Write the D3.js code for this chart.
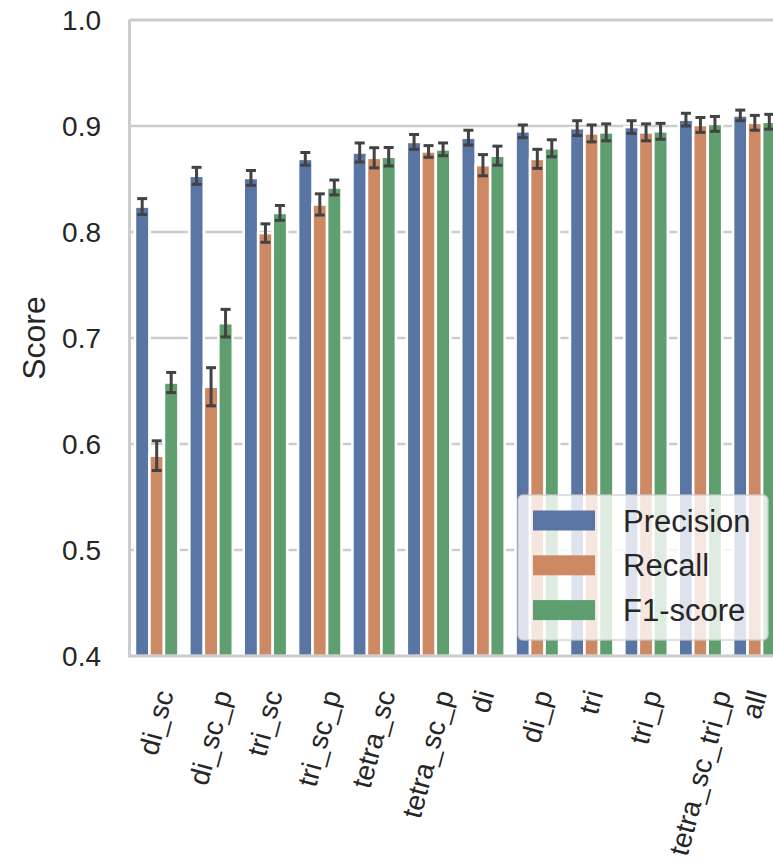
<!DOCTYPE html>
<html>
<head>
<meta charset="utf-8">
<script src="https://cdn.jsdelivr.net/npm/d3@7"></script>
<style>
  body { margin: 0; background: #fff; }
  svg { display: block; font-family: "Liberation Sans", Arial, sans-serif; }
</style>
</head>
<body>
<div id="chart"></div>
<script>
// feature sets on the x axis
const categories = ["di_sc", "di_sc_p", "tri_sc", "tri_sc_p", "tetra_sc", "tetra_sc_p",
    "di", "di_p", "tri", "tri_p", "tetra_sc_tri_p", "all"];
const seriesNames = ["Precision", "Recall", "F1-score"];

const precision = [0.824, 0.853, 0.851, 0.869, 0.875, 0.885, 0.889, 0.895, 0.898, 0.899, 0.906, 0.910];
const recall    = [0.589, 0.654, 0.799, 0.826, 0.870, 0.876, 0.863, 0.869, 0.893, 0.894, 0.901, 0.903];
const f1score   = [0.658, 0.714, 0.818, 0.842, 0.871, 0.878, 0.872, 0.879, 0.894, 0.895, 0.902, 0.904];

// half width of the error bars
const precisionErr = [0.0075, 0.008, 0.007, 0.006, 0.009, 0.007, 0.007, 0.006, 0.007, 0.006, 0.006, 0.005];
const recallErr    = [0.014, 0.018, 0.0087, 0.010, 0.0095, 0.0055, 0.010, 0.009, 0.008, 0.008, 0.007, 0.007];
const f1Err        = [0.0095, 0.013, 0.007, 0.007, 0.0087, 0.006, 0.009, 0.008, 0.008, 0.0075, 0.007, 0.007];

const yTicks = [0.4, 0.5, 0.6, 0.7, 0.8, 0.9, 1.0];
const colors = ["#5975a4", "#cc8963", "#5f9e6e"];

const W = 773, H = 862;
const plotLeft = 129.5, plotRight = 782, plotTop = 20, plotBottom = 656;

var svg = d3.select("#chart")
    .append("svg")
    .attr("width", W)
    .attr("height", H);

var xScale = d3.scaleBand().domain(categories).range([plotLeft, plotRight]).paddingInner(0).paddingOuter(0);
var xInner = d3.scaleBand().domain(seriesNames).range([0, xScale.bandwidth() * 0.8]);
var yScale = d3.scaleLinear().domain([0.4, 1.0]).range([plotBottom, plotTop]);

// grid
svg.append("g")
    .selectAll("line")
    .data(yTicks.slice(1, -1))
    .enter().append("line")
    .attr("x1", plotLeft).attr("x2", W)
    .attr("y1", d => yScale(d)).attr("y2", d => yScale(d))
    .attr("stroke", "#cccccc")
    .attr("stroke-width", 2.5);

// y tick labels
svg.append("g")
    .selectAll("text")
    .data(yTicks)
    .enter().append("text")
    .attr("x", 101)
    .attr("y", d => yScale(d))
    .attr("dy", "0.35em")
    .attr("text-anchor", "end")
    .attr("font-size", "28px")
    .attr("fill", "#262626")
    .text(d => d3.format(".1f")(d));

svg.append("text")
    .attr("transform", "translate(45," + (plotTop + plotBottom) / 2 + ") rotate(-90)")
    .attr("text-anchor", "middle")
    .attr("font-size", "32px")
    .attr("fill", "#262626")
    .text("Score");

// bars
var rows = [];
categories.forEach((c, i) => {
    rows.push({ cat: c, s: 0, v: precision[i], e: precisionErr[i] });
    rows.push({ cat: c, s: 1, v: recall[i], e: recallErr[i] });
    rows.push({ cat: c, s: 2, v: f1score[i], e: f1Err[i] });
});
const barX = d => xScale(d.cat) + xScale.bandwidth() * 0.1 + xInner(seriesNames[d.s]);

svg.append("g")
    .selectAll("rect")
    .data(rows)
    .enter().append("rect")
    .attr("x", barX)
    .attr("y", d => yScale(d.v))
    .attr("width", xInner.bandwidth())
    .attr("height", d => plotBottom - yScale(d.v))
    .attr("fill", d => colors[d.s])
    .attr("stroke", "#ffffff")
    .attr("stroke-width", 2.6);

// error bars
var eb = svg.append("g")
    .attr("stroke", "#424242")
    .attr("stroke-width", 3)
    .selectAll("g")
    .data(rows)
    .enter().append("g");
const cx = d => barX(d) + xInner.bandwidth() / 2;
const capW = 5;
eb.append("line")
    .attr("x1", cx).attr("x2", cx)
    .attr("y1", d => yScale(d.v - d.e)).attr("y2", d => yScale(d.v + d.e));
eb.append("line")
    .attr("x1", d => cx(d) - capW).attr("x2", d => cx(d) + capW)
    .attr("y1", d => yScale(d.v - d.e)).attr("y2", d => yScale(d.v - d.e));
eb.append("line")
    .attr("x1", d => cx(d) - capW).attr("x2", d => cx(d) + capW)
    .attr("y1", d => yScale(d.v + d.e)).attr("y2", d => yScale(d.v + d.e));

// spines
svg.append("line").attr("x1", plotLeft).attr("x2", plotLeft).attr("y1", plotTop).attr("y2", plotBottom + 1.5)
    .attr("stroke", "#cccccc").attr("stroke-width", 3);
svg.append("line").attr("x1", plotLeft).attr("x2", W).attr("y1", plotBottom).attr("y2", plotBottom)
    .attr("stroke", "#cccccc").attr("stroke-width", 3);
svg.append("line").attr("x1", plotLeft).attr("x2", W).attr("y1", plotTop).attr("y2", plotTop)
    .attr("stroke", "#cccccc").attr("stroke-width", 3);

// rotated x tick labels, box centred under the tick, top at a fixed line
const rot = 75 * Math.PI / 180;
const labelTop = 687, fs = 28;
var xl = svg.append("g")
    .selectAll("text")
    .data(categories)
    .enter().append("text")
    .attr("font-size", fs + "px")
    .attr("fill", "#262626")
    .attr("text-anchor", "middle")
    .attr("dy", "0.32em")
    .text(d => d);
xl.attr("transform", function (d) {
    var w = this.getComputedTextLength();
    var ext = w * Math.sin(rot) + fs * 1.15 * Math.cos(rot);
    var px = xScale(d) + xScale.bandwidth() / 2;
    return "translate(" + px + "," + (labelTop + ext / 2) + ") rotate(-75)";
});

// legend
var lg = svg.append("g");
lg.append("rect")
    .attr("x", 518).attr("y", 495)
    .attr("width", 250).attr("height", 145)
    .attr("rx", 5)
    .attr("fill", "rgba(255,255,255,0.8)")
    .attr("stroke", "rgba(204,204,204,0.8)")
    .attr("stroke-width", 1.5);
var items = lg.selectAll(".item")
    .data(seriesNames)
    .enter().append("g")
    .attr("transform", (d, i) => "translate(0," + (520.5 + i * 44.8) + ")");
items.append("rect")
    .attr("x", 533).attr("y", -10)
    .attr("width", 62).attr("height", 20)
    .attr("fill", (d, i) => colors[i]);
items.append("text")
    .attr("x", 623).attr("y", 0)
    .attr("dy", "0.36em")
    .attr("font-size", "31px")
    .attr("fill", "#262626")
    .text(d => d);
</script>
</body>
</html>
